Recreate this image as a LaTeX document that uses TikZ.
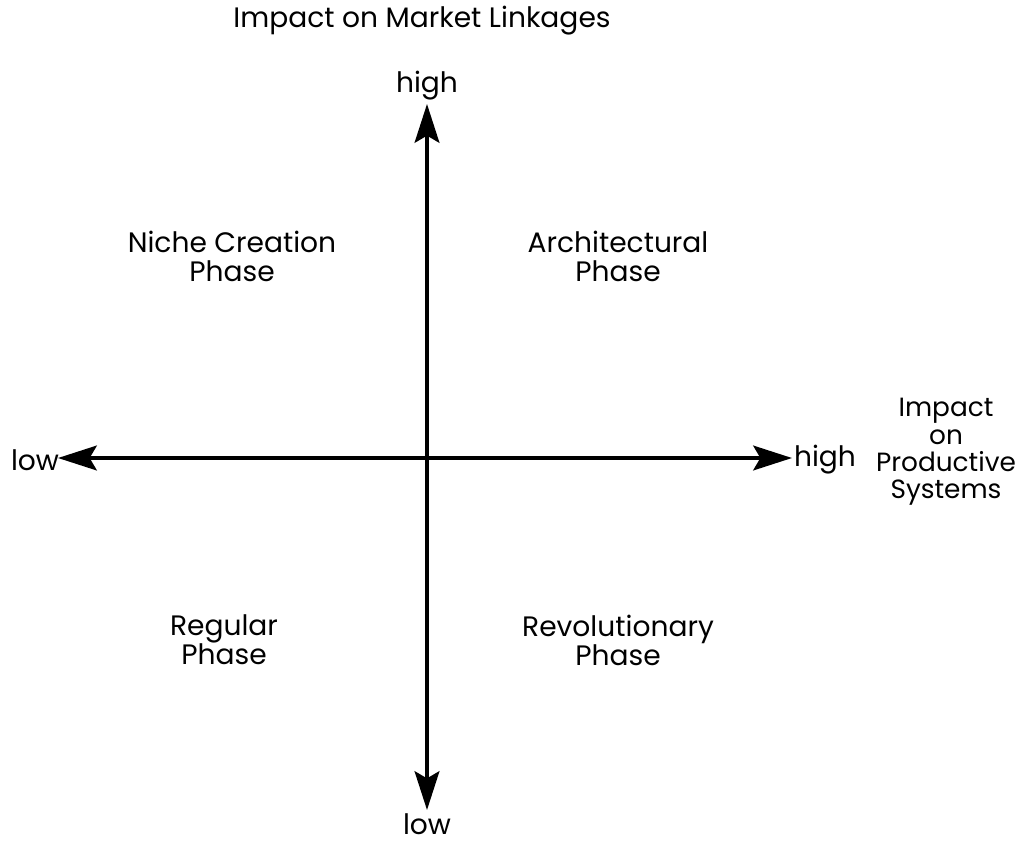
\documentclass[tikz,border=0pt]{standalone}
\usepackage{fontspec}
\setmainfont{Poppins}
\usetikzlibrary{arrows.meta}
\tikzset{
    axis/.style={line width=2.4pt, {Stealth[length=22pt, width=14pt, inset=4pt]}-{Stealth[length=22pt, width=14pt, inset=4pt]}},
    lbl/.style={align=center, inner sep=0pt, font=\fontsize{16}{16.5}\selectfont}
}
\begin{document}
\begin{tikzpicture}
        \useasboundingbox (0,0) rectangle (20.36,-16.86);
        % Below are the ends of the two axes.
            \coordinate (top) at (8.54,-2.08);
            \coordinate (bottom) at (8.54,-16.2);
            \coordinate (left) at (1.16,-9.16);
            \coordinate (right) at (15.84,-9.16);
        \draw[axis] (bottom) -- (top);
        \draw[axis] (left) -- (right);
        % Below nodes are the labels.
            \node[lbl] (title) at (8.44,-0.42) {Impact on Market Linkages};
            \node[lbl] (yhigh) at (8.54,-1.72) {high};
            \node[lbl] (ylow) at (8.54,-16.48) {low};
            \node[lbl] (xlow) at (0.7,-9.2) {low};
            \node[lbl] (xhigh) at (16.5,-9.2) {high};
            \node[lbl, font=\fontsize{15}{15.5}\selectfont] (xname) at (18.92,-9.04) {Impact\\on\\Productive\\Systems};
        % These are the four phases.
            \node[lbl] (niche) at (4.64,-5.12) {Niche Creation\\Phase};
            \node[lbl] (arch) at (12.36,-5.12) {Architectural\\Phase};
            \node[lbl] (regular) at (4.48,-12.8) {Regular\\Phase};
            \node[lbl] (revol) at (12.36,-12.8) {Revolutionary\\Phase};
    \end{tikzpicture}
\end{document}
